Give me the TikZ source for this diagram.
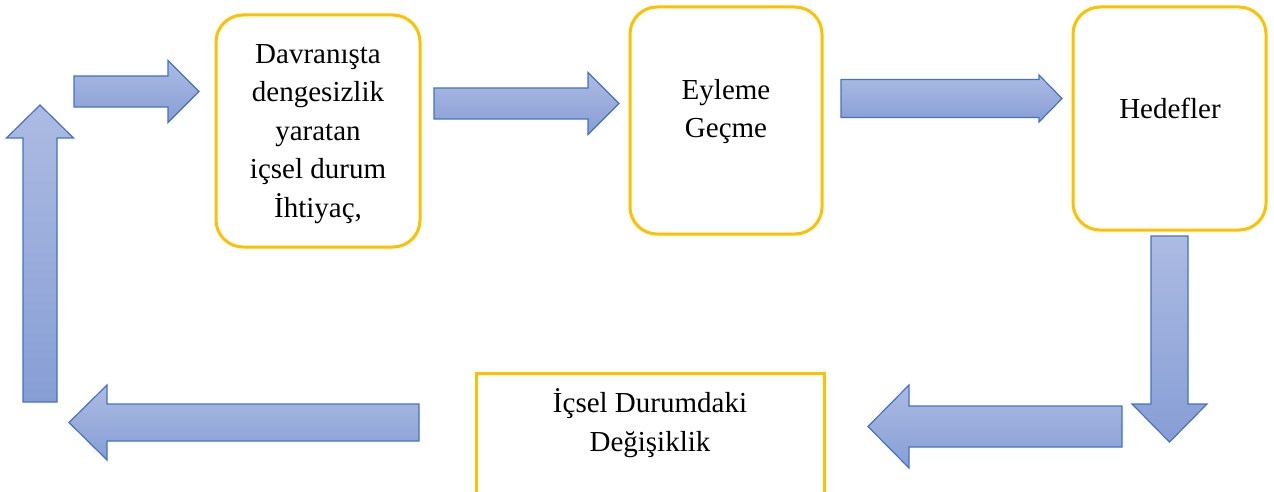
\documentclass[tikz,border=0pt]{standalone}
\usepackage{fontspec}
\setmainfont{Liberation Serif}
\usetikzlibrary{calc}
\definecolor{boxgold}{RGB}{255,192,0}
\definecolor{arrowline}{RGB}{68,114,196}
\definecolor{arrowtop}{RGB}{172,187,226}
\definecolor{arrowbot}{RGB}{135,158,213}

\begin{document}
\begin{tikzpicture}[x=1pt,y=-1pt,
		roundbox/.style={draw=boxgold, line width=3pt, rounded corners=27pt, inner sep=0pt},
		plainbox/.style={draw=boxgold, line width=3pt, inner sep=0pt},
		boxtext/.style={align=center, font=\fontsize{29}{38.5}\selectfont, inner sep=0pt}]
		\newcommand{\blockarrow}[5]{ % #1: start, #2: tip, #3: shaft half-width, #4: head half-width, #5: head length
			\coordinate (#1-b) at ($(#2)!#5pt!(#1)$);
			\shadedraw[top color=arrowtop, bottom color=arrowbot, draw=arrowline, line width=1.2pt, line join=miter]
				($(#1)!#3pt!90:(#2)$) -- ($(#1-b)!#3pt!90:(#2)$) -- ($(#1-b)!#4pt!90:(#2)$) -- (#2)
				-- ($(#1-b)!#4pt!-90:(#2)$) -- ($(#1-b)!#3pt!-90:(#2)$) -- ($(#1)!#3pt!-90:(#2)$) -- cycle;
		}
		
		\useasboundingbox (0,0) rectangle (1274,492);
		\clip (0,0) rectangle (1274,492);
		
		%boxes
		\node[roundbox, minimum width=204, minimum height=232] (need) at (318,131) {};
		\node[roundbox, minimum width=192, minimum height=227] (action) at (726,120.5) {};
		\node[roundbox, minimum width=193, minimum height=223] (goals) at (1169.5,118.5) {};
		\node[plainbox, minimum width=348, minimum height=200] (change) at (650,473) {};
		
		%texts
		\node[boxtext] (needtext) at (318,134) {Davranışta\\dengesizlik\\yaratan\\içsel durum\\İhtiyaç,};
		\node[boxtext] (actiontext) at (726,111.5) {Eyleme\\Geçme};
		\node[boxtext] (goalstext) at (1170,108) {Hedefler};
		\node[boxtext] (changetext) at (650,423) {İçsel Durumdaki\\Değişiklik};
		
		%arrow ends
		\coordinate (upS) at (40,402);
		\coordinate (upE) at (40,105);
		\coordinate (inS) at (74,91.5);
		\coordinate (inE) at (199,91.5);
		\coordinate (actS) at (434,103.5);
		\coordinate (actE) at (619,103.5);
		\coordinate (goalS) at (841,98.5);
		\coordinate (goalE) at (1062,98.5);
		\coordinate (downS) at (1169.5,236);
		\coordinate (downE) at (1169.5,442);
		\coordinate (backS) at (1122,426.5);
		\coordinate (backE) at (868,426.5);
		\coordinate (leftS) at (419,422.5);
		\coordinate (leftE) at (69,422.5);
		
		%block arrows
		\blockarrow{upS}{upE}{17}{33.5}{33}
		\blockarrow{inS}{inE}{15.5}{31}{31}
		\blockarrow{actS}{actE}{15.5}{31}{31}
		\blockarrow{goalS}{goalE}{19}{23.5}{23}
		\blockarrow{downS}{downE}{18.5}{37.5}{38}
		\blockarrow{backS}{backE}{20.5}{41.5}{41}
		\blockarrow{leftS}{leftE}{18.5}{37.5}{38}
		
	\end{tikzpicture}
\end{document}
